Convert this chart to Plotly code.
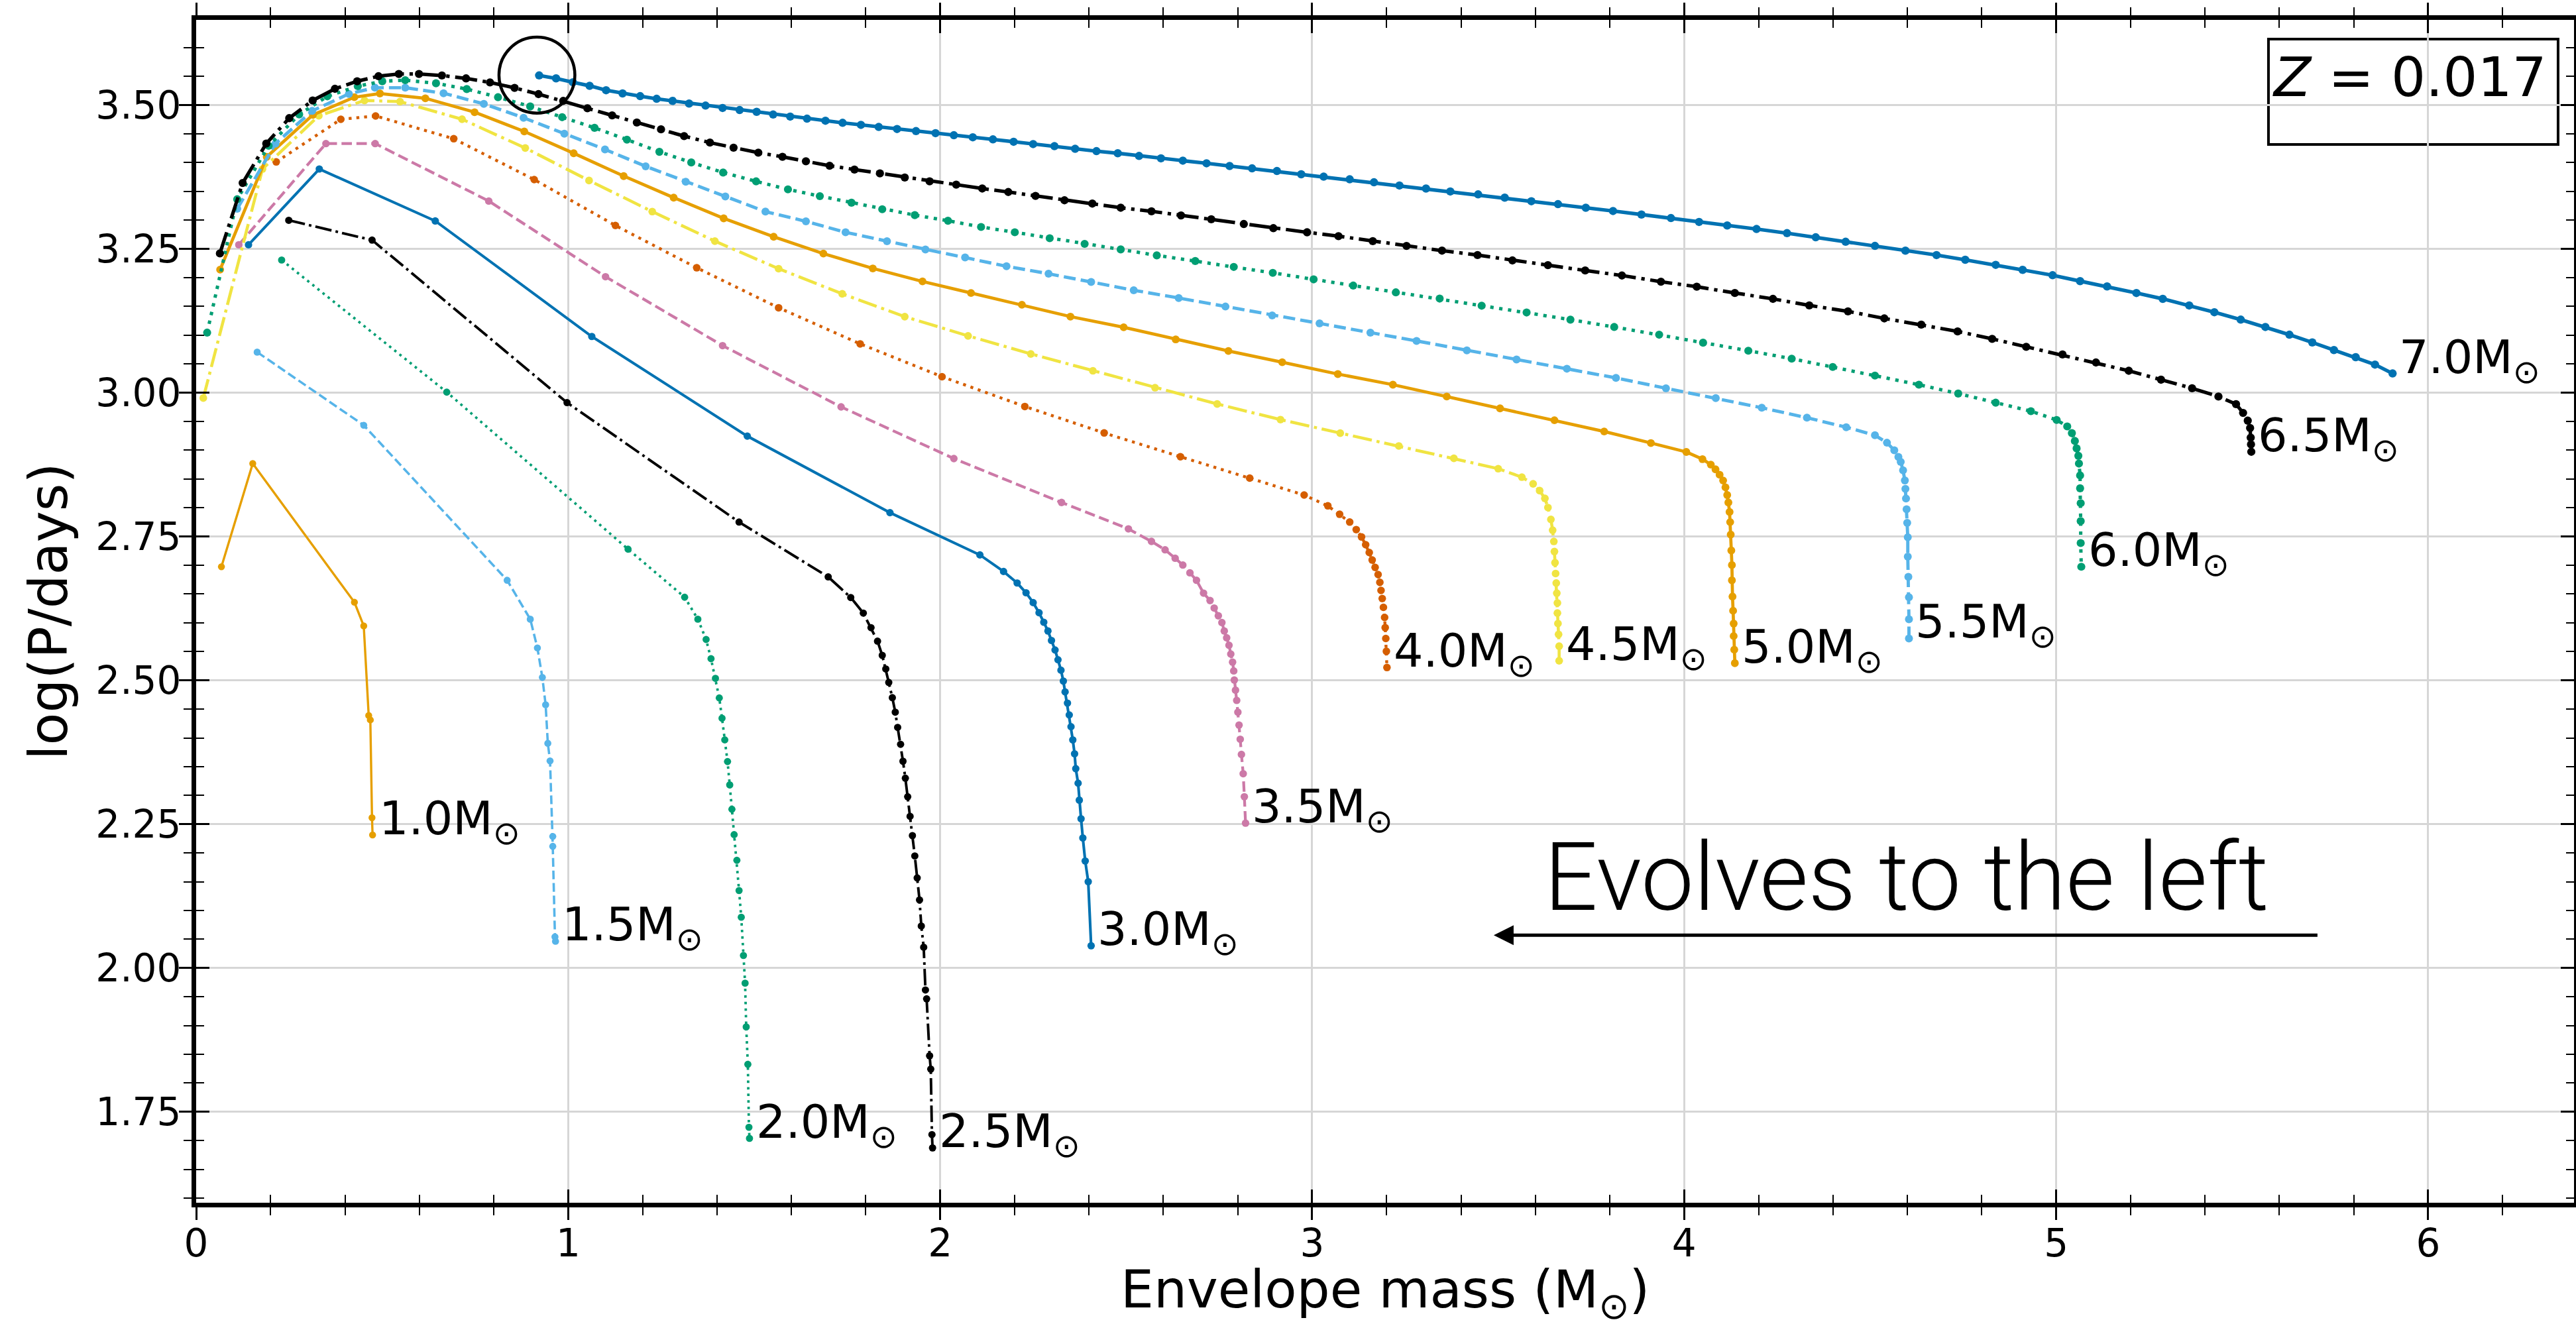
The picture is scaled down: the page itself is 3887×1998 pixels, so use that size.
import plotly.graph_objects as go

# ---------------- data ----------------
MASSES = [1.0, 1.5, 2.0, 2.5, 3.0, 3.5, 4.0, 4.5, 5.0, 5.5, 6.0, 6.5, 7.0]

TRACK_10 = [(0.0679, 2.6975), (0.1521, 2.8768), (0.4254, 2.6357), (0.4505, 2.5946), (0.4638, 2.4388),
            (0.4682, 2.4312), (0.4727, 2.2612), (0.4742, 2.2313)]

TRACK_15 = [(0.164, 3.0705), (0.4505, 2.9434), (0.836, 2.6739), (0.8981, 2.6063), (0.9173, 2.5564),
            (0.9306, 2.505), (0.9394, 2.4576), (0.9453, 2.3906), (0.9513, 2.36), (0.9586, 2.2287),
            (0.9586, 2.2115), (0.9645, 2.0541), (0.966, 2.0464)]

TRACK_20 = [(0.2298, 3.2306), (0.6736, 3.001), (1.161, 2.728), (1.3131, 2.6445), (1.3486, 2.6063),
            (1.3708, 2.571), (1.384, 2.5376), (1.3959, 2.5035), (1.4062, 2.4694), (1.4136, 2.4341),
            (1.421, 2.3965), (1.4284, 2.3588), (1.4343, 2.3183), (1.4402, 2.2759), (1.4461, 2.2318),
            (1.4535, 2.1872), (1.4594, 2.1347), (1.4653, 2.0882), (1.4712, 2.0218), (1.4756, 1.9736),
            (1.4786, 1.8976), (1.483, 1.8325), (1.4859, 1.7232), (1.4874, 1.7038)]

TRACK_25 = [(0.2489, 3.2997), (0.4729, 3.2652), (0.997, 2.9828), (1.4594, 2.7751), (1.6991, 2.6798),
            (1.7596, 2.644), (1.7934, 2.6169), (1.8141, 2.5916), (1.8316, 2.5681), (1.8443, 2.5434),
            (1.8538, 2.5199), (1.8618, 2.4964), (1.8714, 2.4699), (1.8793, 2.4447), (1.8857, 2.4182),
            (1.8936, 2.3888), (1.9, 2.3594), (1.9064, 2.33), (1.9127, 2.2977), (1.9191, 2.2636),
            (1.9254, 2.2301), (1.9318, 2.1948), (1.9382, 2.1566), (1.9445, 2.1183), (1.9493, 2.073),
            (1.9557, 2.0361), (1.9604, 1.9618), (1.9636, 1.9464), (1.9716, 1.8474), (1.9747, 1.8243),
            (1.9779, 1.7104), (1.9795, 1.6873)]

TRACK_30 = [(0.1407, 3.2571), (0.331, 3.3888), (0.6428, 3.2985), (1.0635, 3.0977), (1.4815, 2.9245),
            (1.865, 2.7915), (2.1068, 2.718), (2.1704, 2.6892), (2.2069, 2.6692), (2.2308, 2.6522),
            (2.25, 2.6351), (2.2658, 2.6175), (2.2785, 2.601), (2.2897, 2.5858), (2.2992, 2.5693),
            (2.3088, 2.5528), (2.3167, 2.5358), (2.3247, 2.5176), (2.3311, 2.4987), (2.3358, 2.4799),
            (2.3422, 2.4605), (2.347, 2.4399), (2.3517, 2.4194), (2.3565, 2.3965), (2.3613, 2.3724),
            (2.3645, 2.3465), (2.3708, 2.3212), (2.374, 2.2918), (2.3787, 2.2595), (2.3835, 2.226),
            (2.3899, 2.186), (2.398, 2.15), (2.4058, 2.0387)]

TRACK_35 = [(0.1147, 3.2571), (0.3488, 3.433), (0.4812, 3.433), (0.7866, 3.3331), (1.1004, 3.2016),
            (1.4151, 3.0818), (1.7336, 2.9753), (2.0368, 2.8855), (2.3263, 2.8092), (2.506, 2.7633),
            (2.568, 2.7415), (2.6046, 2.7269), (2.6317, 2.7122), (2.6523, 2.7004), (2.6714, 2.6869),
            (2.689, 2.6739), (2.708, 2.6516), (2.7255, 2.6387), (2.7366, 2.6257), (2.7477, 2.6122),
            (2.7573, 2.6005), (2.7637, 2.5858), (2.7701, 2.574), (2.7764, 2.5611), (2.7812, 2.5458),
            (2.786, 2.5317), (2.7891, 2.5164), (2.7907, 2.5005), (2.7939, 2.4829), (2.7971, 2.4652),
            (2.8003, 2.4447), (2.8034, 2.4223), (2.8066, 2.3976), (2.8098, 2.3712), (2.8146, 2.3377),
            (2.8177, 2.2977), (2.8209, 2.2518)]

TRACK_40 = [(0.2152, 3.4011), (0.3889, 3.4752), (0.4824, 3.481), (0.6924, 3.4414), (0.9087, 3.3704),
            (1.127, 3.2906), (1.3456, 3.2171), (1.5657, 3.1476), (1.7849, 3.0849), (2.005, 3.0278),
            (2.2276, 2.976), (2.4408, 2.93), (2.646, 2.8887), (2.8321, 2.8515), (2.9784, 2.8221),
            (3.0421, 2.8033), (3.0738, 2.7886), (3.1009, 2.7751), (3.1184, 2.7621), (3.1327, 2.7492),
            (3.1438, 2.7357), (3.1534, 2.7222), (3.1613, 2.7092), (3.1692, 2.6963), (3.1772, 2.6839),
            (3.1819, 2.6704), (3.1851, 2.6563), (3.1883, 2.6422), (3.1915, 2.6269), (3.1947, 2.6093),
            (3.1963, 2.5916), (3.1979, 2.5728), (3.1995, 2.5505), (3.201, 2.5223)]

TRACK_45 = [(0.0192, 2.9907), (0.1783, 3.3888), (0.3297, 3.4814), (0.4525, 3.5079), (0.548, 3.506),
            (0.7147, 3.4753), (0.8846, 3.4253), (1.0561, 3.3688), (1.226, 3.3148), (1.3944, 3.2634),
            (1.5657, 3.2155), (1.7367, 3.1718), (1.9048, 3.1322), (2.075, 3.0988), (2.2436, 3.0674),
            (2.4106, 3.0381), (2.5776, 3.0087), (2.7446, 2.9804), (2.9148, 2.9532), (3.0754, 2.9297),
            (3.2329, 2.9074), (3.3809, 2.886), (3.5001, 2.8679), (3.5637, 2.8532), (3.5939, 2.8415),
            (3.6115, 2.8297), (3.6256, 2.8162), (3.6338, 2.8003), (3.6417, 2.7798), (3.6464, 2.761),
            (3.6496, 2.7415), (3.6512, 2.7239), (3.6528, 2.7045), (3.6544, 2.6857), (3.6561, 2.6692),
            (3.6576, 2.6516), (3.6592, 2.6346), (3.6592, 2.6169), (3.6607, 2.5987), (3.6623, 2.5799),
            (3.6639, 2.5593), (3.6639, 2.534)]

TRACK_50 = [(0.0644, 3.2139), (0.1897, 3.4099), (0.3138, 3.4829), (0.4252, 3.5136), (0.4939, 3.5201),
            (0.6161, 3.5117), (0.7484, 3.4875), (0.882, 3.4541), (1.0148, 3.4162), (1.1492, 3.3765),
            (1.2836, 3.339), (1.418, 3.303), (1.5524, 3.2711), (1.6861, 3.2418), (1.8189, 3.216),
            (1.9525, 3.1934), (2.0829, 3.1733), (2.2197, 3.1528), (2.3501, 3.1322), (2.4933, 3.1137),
            (2.6332, 3.0926), (2.7748, 3.0725), (2.9195, 3.053), (3.069, 3.0324), (3.217, 3.0139),
            (3.3618, 2.9933), (3.505, 2.9727), (3.6512, 2.9522), (3.7849, 2.9326), (3.9105, 2.9125),
            (4.0057, 2.897), (4.0492, 2.8844), (4.0716, 2.875), (4.0842, 2.8668), (4.0952, 2.8574),
            (4.1047, 2.8474), (4.111, 2.8356), (4.1157, 2.8221), (4.1188, 2.8092), (4.122, 2.7927),
            (4.1236, 2.7751), (4.1251, 2.7533), (4.1267, 2.7257), (4.1283, 2.7004), (4.1283, 2.6739),
            (4.1299, 2.6457), (4.1315, 2.621), (4.133, 2.5987), (4.133, 2.5769), (4.1346, 2.5534),
            (4.1362, 2.5299)]

TRACK_55 = [(0.1103, 3.3197), (0.2133, 3.433), (0.3119, 3.4898), (0.4105, 3.5194), (0.4805, 3.5301),
            (0.562, 3.5301), (0.665, 3.5205), (0.7733, 3.5021), (0.8801, 3.4779), (0.9897, 3.4501),
            (1.099, 3.4228), (1.2083, 3.3935), (1.3161, 3.3668), (1.4225, 3.341), (1.5303, 3.3148),
            (1.6391, 3.2978), (1.7457, 3.2788), (1.857, 3.2634), (1.9604, 3.249), (2.067, 3.2351),
            (2.1783, 3.2197), (2.2913, 3.2068), (2.4058, 3.1924), (2.5203, 3.178), (2.6412, 3.1646),
            (2.7669, 3.1497), (2.8925, 3.1343), (3.0198, 3.1204), (3.1565, 3.1044), (3.2806, 3.09),
            (3.4158, 3.0736), (3.5494, 3.0576), (3.6847, 3.0417), (3.8166, 3.0257), (3.951, 3.0077),
            (4.0849, 2.9907), (4.2086, 2.9738), (4.33, 2.9565), (4.4356, 2.94), (4.5128, 2.926),
            (4.5451, 2.913), (4.5648, 2.9), (4.5758, 2.8885), (4.5821, 2.8797), (4.5884, 2.865),
            (4.5932, 2.8474), (4.5947, 2.8327), (4.5963, 2.8162), (4.5979, 2.7974), (4.5995, 2.7739),
            (4.6011, 2.7486), (4.6011, 2.7151), (4.6026, 2.6798), (4.6042, 2.6445), (4.6042, 2.6063),
            (4.6042, 2.5728)]

TRACK_60 = [(0.0295, 3.1044), (0.1103, 3.3362), (0.1948, 3.4292), (0.2769, 3.4837), (0.3526, 3.5152),
            (0.4347, 3.5328), (0.5003, 3.5413), (0.562, 3.5432), (0.6447, 3.5378), (0.7274, 3.5278),
            (0.8114, 3.5136), (0.8979, 3.4975), (0.9838, 3.4789), (1.0709, 3.4604), (1.158, 3.4398),
            (1.2452, 3.4187), (1.3309, 3.4002), (1.4165, 3.3827), (1.5052, 3.3673), (1.5908, 3.3534),
            (1.6765, 3.3416), (1.7616, 3.3302), (1.8443, 3.3189), (1.9318, 3.3086), (2.0209, 3.2989),
            (2.1099, 3.2881), (2.2006, 3.2788), (2.2944, 3.2685), (2.3883, 3.2587), (2.4853, 3.249),
            (2.5823, 3.2387), (2.6857, 3.2289), (2.7892, 3.2186), (2.8941, 3.2083), (3.0039, 3.197),
            (3.1104, 3.1862), (3.2249, 3.1744), (3.3427, 3.1636), (3.4556, 3.1512), (3.5764, 3.1394),
            (3.6942, 3.127), (3.8119, 3.1142), (3.9327, 3.1008), (4.0508, 3.0869), (4.1724, 3.073),
            (4.289, 3.0591), (4.3993, 3.0447), (4.5128, 3.0298), (4.631, 3.0139), (4.7366, 2.9985),
            (4.8374, 2.9826), (4.932, 2.9679), (5.0013, 2.9526), (5.0297, 2.9414), (5.0422, 2.9297),
            (5.0502, 2.9161), (5.0549, 2.9032), (5.0596, 2.8903), (5.0612, 2.8768), (5.0643, 2.8562),
            (5.0643, 2.8338), (5.0659, 2.808), (5.0659, 2.7768), (5.0659, 2.7386), (5.0675, 2.6975)]

TRACK_65 = [(0.0638, 3.2421), (0.125, 3.3646), (0.1885, 3.433), (0.2502, 3.4772), (0.3132, 3.5079),
            (0.373, 3.5282), (0.4328, 3.5413), (0.4901, 3.5501), (0.5448, 3.554), (0.5989, 3.554),
            (0.6606, 3.5513), (0.7255, 3.5463), (0.7898, 3.5393), (0.8559, 3.5298), (0.9202, 3.519),
            (0.9867, 3.5072), (1.0517, 3.4943), (1.1182, 3.482), (1.1846, 3.4696), (1.2496, 3.4578),
            (1.3117, 3.446), (1.3811, 3.4347), (1.4446, 3.4259), (1.5111, 3.4172), (1.5761, 3.41),
            (1.6391, 3.4023), (1.7027, 3.3945), (1.7696, 3.3879), (1.838, 3.3812), (1.9048, 3.374),
            (1.9716, 3.3673), (2.0431, 3.3616), (2.1131, 3.3549), (2.1831, 3.3488), (2.2563, 3.3421),
            (2.3342, 3.3344), (2.409, 3.3287), (2.4853, 3.3215), (2.568, 3.3153), (2.6475, 3.3081),
            (2.7287, 3.3014), (2.8162, 3.2932), (2.8957, 3.286), (2.9863, 3.2788), (3.0707, 3.2721),
            (3.1629, 3.2634), (3.2536, 3.2551), (3.349, 3.2469), (3.4445, 3.2392), (3.5383, 3.2299),
            (3.6337, 3.2217), (3.7339, 3.2124), (3.8327, 3.2037), (3.9375, 3.1929), (4.0338, 3.1842),
            (4.1362, 3.1733), (4.2386, 3.1631), (4.3363, 3.1517), (4.4403, 3.1414), (4.538, 3.1291),
            (4.6373, 3.1183), (4.735, 3.1065), (4.8279, 3.0936), (4.9194, 3.0797), (5.017, 3.0664),
            (5.1069, 3.0525), (5.1951, 3.0381), (5.2818, 3.0226), (5.3653, 3.0077), (5.4362, 2.9933),
            (5.4835, 2.98), (5.5024, 2.9649), (5.515, 2.9514), (5.5213, 2.9385), (5.5229, 2.922),
            (5.5237, 2.91), (5.5245, 2.8973)]

TRACK_70 = [(0.922, 3.5514), (0.9675, 3.5463), (1.0127, 3.5395), (1.0576, 3.5334), (1.1019, 3.5257),
            (1.1462, 3.5201), (1.1935, 3.5154), (1.2378, 3.5108), (1.2806, 3.5072), (1.325, 3.5026),
            (1.3693, 3.499), (1.4151, 3.4949), (1.4609, 3.4913), (1.5066, 3.4882), (1.551, 3.4835),
            (1.5968, 3.4799), (1.642, 3.4763), (1.6916, 3.4727), (1.7377, 3.4691), (1.787, 3.4655),
            (1.8348, 3.4619), (1.8841, 3.4583), (1.935, 3.4547), (1.9875, 3.4511), (2.0368, 3.4475),
            (2.0877, 3.4439), (2.1418, 3.4403), (2.1974, 3.4362), (2.2499, 3.4321), (2.3072, 3.4285),
            (2.3628, 3.4239), (2.4201, 3.4198), (2.4774, 3.4162), (2.5346, 3.4115), (2.5935, 3.4074),
            (2.6523, 3.4033), (2.716, 3.3987), (2.778, 3.394), (2.8384, 3.3899), (2.9052, 3.3853),
            (2.9705, 3.3796), (3.0309, 3.3755), (3.1009, 3.3709), (3.1661, 3.3657), (3.2345, 3.3601),
            (3.306, 3.3549), (3.3713, 3.3498), (3.4461, 3.3447), (3.5176, 3.339), (3.5892, 3.3328),
            (3.6608, 3.3277), (3.7355, 3.3215), (3.8087, 3.3158), (3.8851, 3.3097), (3.9644, 3.3035),
            (4.04, 3.2968), (4.1157, 3.2906), (4.1945, 3.2845), (4.2764, 3.2773), (4.3536, 3.2701),
            (4.434, 3.2623), (4.5128, 3.2551), (4.5947, 3.2469), (4.6783, 3.2392), (4.7555, 3.231),
            (4.8374, 3.2222), (4.9099, 3.2135), (4.9903, 3.2042), (5.0643, 3.1939), (5.1368, 3.1847),
            (5.2156, 3.1733), (5.2865, 3.1631), (5.3575, 3.1517), (5.4252, 3.1399), (5.4961, 3.127),
            (5.5623, 3.1142), (5.6269, 3.1008), (5.6884, 3.0874), (5.7466, 3.0741), (5.805, 3.0617),
            (5.857, 3.0489), (5.9043, 3.0334)]

TRACKS = [TRACK_10, TRACK_15, TRACK_20, TRACK_25, TRACK_30, TRACK_35, TRACK_40,
          TRACK_45, TRACK_50, TRACK_55, TRACK_60, TRACK_65, TRACK_70]

X_TICKS = [0, 1, 2, 3, 4, 5, 6]
Y_TICKS = [1.75, 2.00, 2.25, 2.50, 2.75, 3.00, 3.25, 3.50]
X_RANGE = [0.0, 6.392]
Y_RANGE = [1.592, 3.648]

X_TITLE = "Envelope mass (M<sub>⊙</sub>)"
Y_TITLE = "log(P/days)"
Z_TEXT = "<i>Z</i> = 0.017"
EVOLVE_TEXT = "Evolves to the left"

# ---------------- styles ----------------
PALETTE = ["#E69F00", "#56B4E9", "#009E73", "#000000", "#0072B2", "#CC79A7", "#D55E00", "#F0E442"]
STYLES = ["solid", "dash", "dot", "dashdot"]
FONT = "DejaVu Sans"


def dash_pattern(style, lw):
    if style == "solid":
        return "solid"
    if style == "dash":
        return f"{3.7 * lw:.1f}px,{1.6 * lw:.1f}px"
    if style == "dot":
        return f"{1.0 * lw:.1f}px,{1.65 * lw:.1f}px"
    return f"{6.4 * lw:.1f}px,{1.6 * lw:.1f}px,{1.0 * lw:.1f}px,{1.6 * lw:.1f}px"


fig = go.Figure()
annotations = []

for i, (mass, track) in enumerate(zip(MASSES, TRACKS)):
    xs = [p[0] for p in track]
    ys = [p[1] for p in track]
    color = PALETTE[i % len(PALETTE)]
    style = STYLES[i % len(STYLES)]
    lw = 3.4 + (mass - 1.0) / 3.0
    fig.add_trace(go.Scatter(
        x=xs, y=ys, mode="lines+markers",
        line=dict(color=color, width=lw, dash=dash_pattern(style, lw)),
        marker=dict(color=color, size=10.5 + (mass - 1.0) / 6.0 * 2, line=dict(width=0)),
        showlegend=False, hoverinfo="skip",
    ))
    annotations.append(dict(
        x=xs[-1], y=ys[-1], xref="x", yref="y",
        text=f"{mass:.1f}M<sub>⊙</sub>", showarrow=False,
        xanchor="left", yanchor="middle", xshift=8, yshift=20,
        font=dict(family=FONT, size=70, color="black"),
    ))

# "Evolves to the left" text and arrow
annotations.append(dict(
    x=4.597, y=2.157, xref="x", yref="y", text=EVOLVE_TEXT, showarrow=False,
    xanchor="center", yanchor="middle",
    font=dict(family="Roboto", size=142, color="black", weight=300),
))
annotations.append(dict(
    x=3.488, y=2.057, ax=5.705, ay=2.057, xref="x", yref="y", axref="x", ayref="y",
    text="", showarrow=True, arrowhead=2, arrowsize=1.2, arrowwidth=5, arrowcolor="black",
))
# Z box text
annotations.append(dict(
    x=0.9309, y=0.9513, xref="paper", yref="paper", text=Z_TEXT, showarrow=False,
    xanchor="center", yanchor="middle",
    font=dict(family=FONT, size=82, color="black"),
))
# x-axis title (placed as annotation for exact vertical position)
annotations.append(dict(
    x=0.5, y=-0.0765, xref="paper", yref="paper", text=X_TITLE, showarrow=False,
    xanchor="center", yanchor="middle",
    font=dict(family=FONT, size=79, color="black"),
))

shapes = [
    dict(type="rect", xref="paper", yref="paper", x0=0.8715, x1=0.9933, y0=0.8947, y1=0.9838,
         line=dict(color="black", width=4), fillcolor="white", layer="below"),
    dict(type="circle", xref="x", yref="y", x0=0.814, x1=1.018, y0=3.486, y1=3.618,
         line=dict(color="black", width=4.5)),
]

tickfont = dict(family=FONT, size=58, color="black")
grid_color = "#d6d6d6"

common = dict(automargin=False, tickcolor="black", showline=True, linewidth=7, linecolor="black",
              mirror="ticks", zeroline=False)

fig.update_layout(
    width=3887, height=1998,
    margin=dict(l=296, r=3, t=30, b=183, autoexpand=False),
    paper_bgcolor="white", plot_bgcolor="white",
    annotations=annotations, shapes=shapes,
    xaxis=dict(
        range=X_RANGE, tickvals=X_TICKS, ticktext=[str(v) for v in X_TICKS],
        ticks="outside", ticklen=19, tickwidth=2.5, ticklabelstandoff=-15,
        showgrid=True, gridcolor=grid_color, gridwidth=2.5,
        minor=dict(ticks="outside", ticklen=12, tickwidth=2, dtick=0.2, tickcolor="black", showgrid=False),
        tickfont=tickfont,
        **common,
    ),
    yaxis=dict(
        range=Y_RANGE, tickvals=Y_TICKS, ticktext=[f"{v:.2f}" for v in Y_TICKS],
        ticks="outside", ticklen=19, tickwidth=2.5, ticklabelstandoff=-15,
        showgrid=True, gridcolor=grid_color, gridwidth=2.5,
        minor=dict(ticks="outside", ticklen=12, tickwidth=2, dtick=0.05, tick0=0, tickcolor="black", showgrid=False),
        tickfont=tickfont,
        title=dict(text=Y_TITLE, font=dict(family=FONT, size=80, color="black"), standoff=19),
        **common,
    ),
    xaxis2=dict(
        overlaying="x", anchor="y", side="bottom", range=X_RANGE, tickvals=X_TICKS,
        ticks="inside", ticklen=20, tickwidth=2.5,
        showgrid=False, showticklabels=False,
        minor=dict(ticks="inside", ticklen=12, tickwidth=2, dtick=0.2, tickcolor="black", showgrid=False),
        **common,
    ),
    yaxis2=dict(
        overlaying="y", anchor="x", side="left", range=Y_RANGE, tickvals=Y_TICKS,
        ticks="inside", ticklen=20, tickwidth=2.5,
        showgrid=False, showticklabels=False,
        minor=dict(ticks="inside", ticklen=12, tickwidth=2, dtick=0.05, tick0=0, tickcolor="black", showgrid=False),
        **common,
    ),
)

# invisible trace so the secondary axes are drawn
fig.add_trace(go.Scatter(x=[X_RANGE[0]], y=[Y_RANGE[0]], xaxis="x2", yaxis="y2", mode="markers",
                         marker=dict(opacity=0), showlegend=False, hoverinfo="skip"))

fig.write_html("out.html")
